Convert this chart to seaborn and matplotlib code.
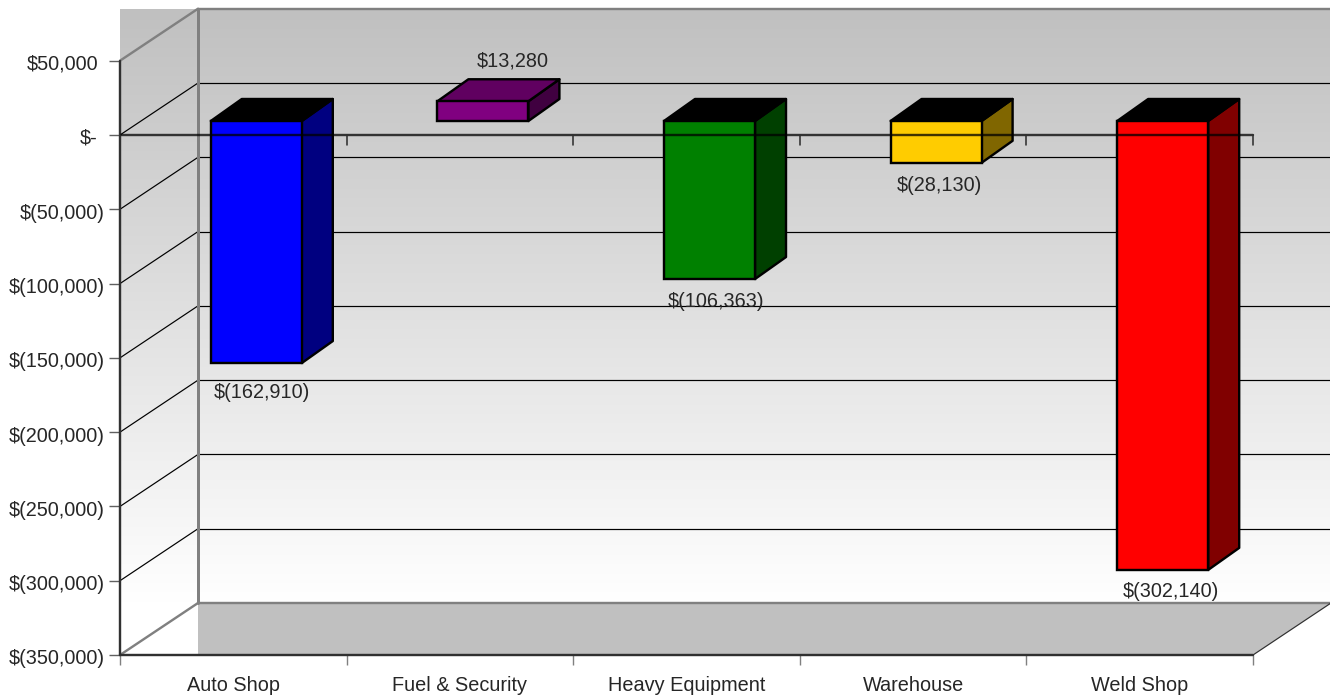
import numpy as np
import matplotlib
matplotlib.use("Agg")
import matplotlib.pyplot as plt
from matplotlib.colors import LinearSegmentedColormap
from matplotlib.patches import Polygon, Rectangle
from matplotlib.transforms import offset_copy, ScaledTranslation
import seaborn as sns

# Net result per department
categories = ["Auto Shop", "Fuel & Security", "Heavy Equipment", "Warehouse", "Weld Shop"]
values = [-162910, 13280, -106363, -28130, -302140]
value_labels = ["$(162,910)", "$13,280", "$(106,363)", "$(28,130)", "$(302,140)"]
y_ticks = [50000, 0, -50000, -100000, -150000, -200000, -250000, -300000, -350000]
y_tick_labels = ["$50,000", "$-", "$(50,000)", "$(100,000)", "$(150,000)", "$(200,000)",
                 "$(250,000)", "$(300,000)", "$(350,000)"]

front_colors = ["#0000ff", "#800080", "#008000", "#ffcc00", "#ff0000"]
side_colors = ["#000080", "#400040", "#004000", "#806600", "#800000"]
top_colors = ["#000000", "#600060", "#000000", "#000000", "#000000"]
# Where each value label sits relative to the end of its bar, in pixels
label_shift = [(5.5, -29), (30, 40), (7, -22), (3.5, -23), (8, -22)]

W, H = 1330, 696
DPI = 100
PX = 72 / DPI  # points per pixel

sns.set_style("white")
plt.rcParams["font.family"] = ["Liberation Sans", "DejaVu Sans"]

fig = plt.figure(figsize=(W / DPI, H / DPI), dpi=DPI)
ax = fig.add_axes([120 / W, 1 - 655 / H, (1331 - 120) / W, (655 - 9) / H])

# Scale factors of the front plane
cat_px = (1253 - 120) / 5
val_px = 520 / 350000
xmin, xmax = -0.5, -0.5 + (1331 - 120) / cat_px
ymin, ymax = -350000, (135 - 9) / val_px
wall_dx, wall_dy = 78 / cat_px, 52 / val_px
depth_dx, depth_dy = 31 / cat_px, 22 / val_px

# Front faces of the bars
sns.barplot(x=categories, y=values, hue=categories, palette=front_colors, dodge=False,
            legend=False, errorbar=None, width=91 / cat_px, saturation=1,
            edgecolor="black", linewidth=2.4 * PX, ax=ax, zorder=3)
bars = sorted([p for p in ax.patches if isinstance(p, Rectangle)], key=lambda p: p.get_x())

# Backdrop: grey to white fade behind the plot
fade = LinearSegmentedColormap.from_list("fade", ["#c0c0c0", "#ffffff"])
ax.imshow(np.linspace(0, 1, 256)[:, None], cmap=fade, aspect="auto", zorder=0,
          extent=(xmin, xmax, ymin + wall_dy, ymax), origin="upper",
          interpolation="bilinear")

# Floor
back_x = xmin + wall_dx
ax.add_patch(Polygon([(back_x, ymin + wall_dy), (xmax, ymin + wall_dy),
                      (4.5, ymin), (back_x, ymin)],
                     closed=True, fc="#c0c0c0", ec="none", zorder=0.5))

# Wall grid lines and their diagonals across the side wall
for t in y_ticks:
    edge = t in (y_ticks[0], y_ticks[-1])
    col = "#808080" if edge else "black"
    lw = 2.4 * PX if edge else 1.2 * PX
    ax.plot([back_x, xmax], [t + wall_dy] * 2, color=col, lw=lw, zorder=1, clip_on=False)
    ax.plot([xmin, back_x], [t, t + wall_dy], color=col, lw=lw, zorder=1.1, clip_on=False)
ax.plot([back_x, back_x], [ymin + wall_dy, ymax], color="#808080", lw=3 * PX, zorder=1.2, clip_on=False)
ax.plot([xmax, xmax], [ymin + wall_dy, ymax], color="#808080", lw=1.2 * PX, zorder=1.2, clip_on=False)
ax.plot([4.5, xmax], [ymin, ymin + wall_dy], color="#303030", lw=1.2 * PX, zorder=1.2, clip_on=False)

# Bars stand a little behind the front plane
bar_shift = offset_copy(ax.transData, fig=fig, x=23 * PX, y=14 * PX, units="points")
for bar, val, side, top, text, (sx, sy) in zip(bars, values, side_colors, top_colors,
                                              value_labels, label_shift):
    bar.set_transform(bar_shift)
    bar.set_clip_on(False)
    x0, x1 = bar.get_x(), bar.get_x() + bar.get_width()
    hi, lo = max(val, 0), min(val, 0)
    ax.add_patch(Polygon([(x1, lo), (x1 + depth_dx, lo + depth_dy),
                          (x1 + depth_dx, hi + depth_dy), (x1, hi)], closed=True,
                         fc=side, ec="black", lw=2.4 * PX, zorder=2.9,
                         transform=bar_shift, joinstyle="round"))
    ax.add_patch(Polygon([(x0, hi), (x0 + depth_dx, hi + depth_dy),
                          (x1 + depth_dx, hi + depth_dy), (x1, hi)], closed=True,
                         fc=top, ec="black", lw=2.4 * PX, zorder=2.9,
                         transform=bar_shift, joinstyle="round"))
    ax.annotate(text, xy=((x0 + x1) / 2 + 23 / cat_px, val + 14 / val_px),
                xytext=(sx * PX, sy * PX), textcoords="offset points",
                ha="center", va="center", fontsize=14.3, color="#262626", zorder=5)

ax.set_xlim(xmin, xmax)
ax.set_ylim(ymin, ymax)
sns.despine(ax=ax, left=True, bottom=True, right=True, top=True)

# Axis lines; the zero line runs over the bars
ax.plot([xmin, xmin], [ymin, y_ticks[0]], color="#303030", lw=2.4 * PX, zorder=6, clip_on=False)
ax.plot([xmin, 4.5], [ymin, ymin], color="#303030", lw=2.4 * PX, zorder=6, clip_on=False)
ax.plot([xmin, 4.5], [0, 0], color="black", alpha=0.75, lw=2.4 * PX, zorder=6)
for b in np.arange(-0.5, 5):
    ax.plot([b, b], [0, -10 / val_px], color="#303030", lw=1.6 * PX, zorder=6)

# Value axis; accounting style keeps positive labels clear of the bracket column
ax.set_yticks(y_ticks)
ax.set_yticklabels(y_tick_labels)
ax.tick_params(axis="y", length=11 * PX, width=1.4 * PX, color="#606060", left=True, right=False,
               pad=4 * PX, labelsize=14.3, labelcolor="#262626", labelleft=True)
for lab, tick in zip(ax.get_yticklabels(), y_ticks):
    shift_x, shift_y = (-7, -1) if tick >= 0 else (0, -2)
    lab.set_transform(lab.get_transform()
                      + ScaledTranslation(shift_x * PX / 72, shift_y * PX / 72, fig.dpi_scale_trans))

# Category axis: labels at the bar positions, ticks on the boundaries
ax.set_xticks(range(len(categories)))
ax.set_xticklabels(categories)
ax.set_xticks(np.arange(-0.5, 5), minor=True)
ax.tick_params(axis="x", which="major", length=0, pad=21 * PX, labelsize=14.3, labelcolor="#262626", bottom=False)
ax.tick_params(axis="x", which="minor", length=10 * PX, width=1.4 * PX, color="#808080", bottom=True)
ax.set_xlabel("")
ax.set_ylabel("")

fig.savefig("out.png", dpi=DPI, facecolor="white")
